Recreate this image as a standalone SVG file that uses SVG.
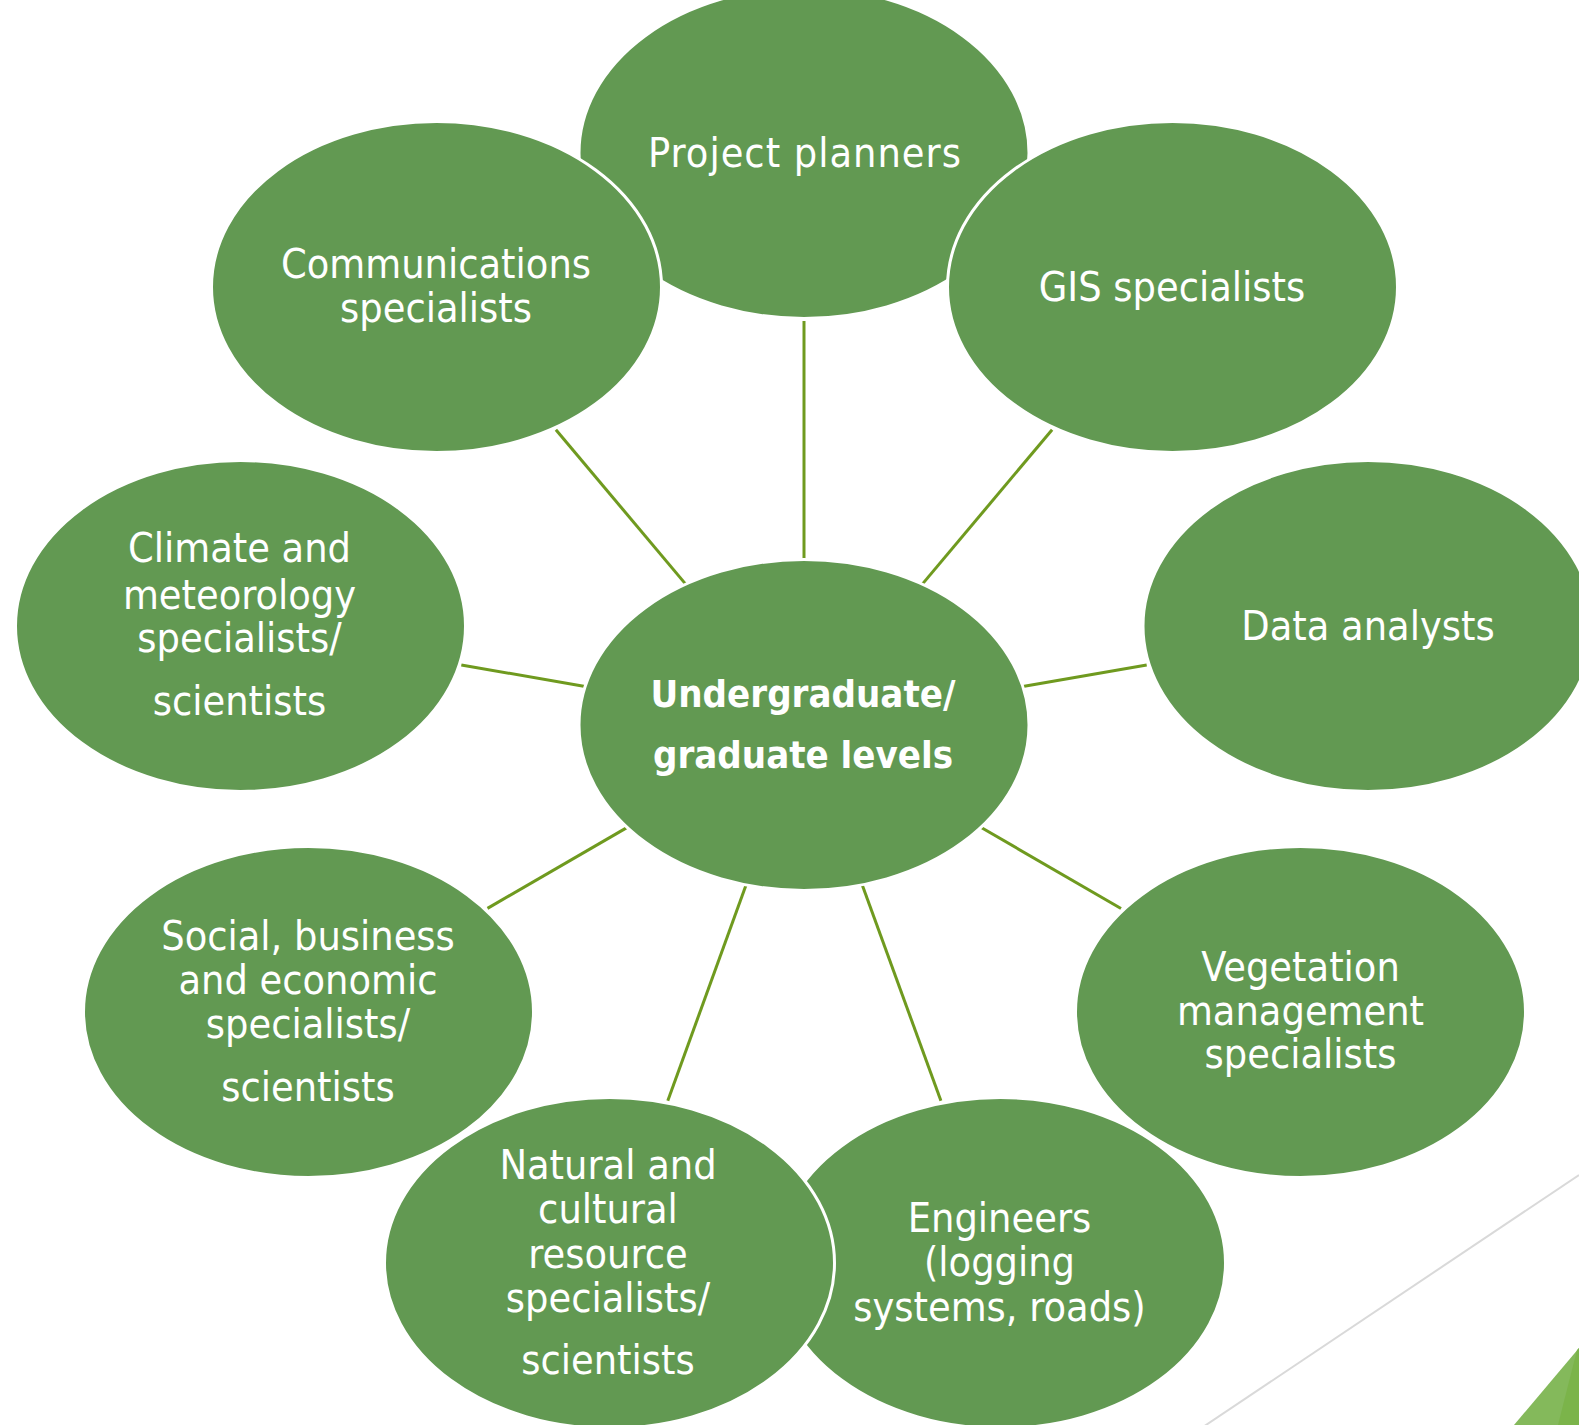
<svg xmlns="http://www.w3.org/2000/svg" width="1579" height="1425" viewBox="0 0 1579 1425">
<style>
.n{fill:#629952;stroke:#ffffff;stroke-width:3}
.t{font-family:"DejaVu Sans Condensed","DejaVu Sans",sans-serif;font-stretch:condensed;font-size:41px;fill:#ffffff;text-anchor:middle}
.b{font-weight:bold;font-size:38px}
.c line{stroke:#6F9A1F;stroke-width:3}
</style>
<rect width="1579" height="1425" fill="#ffffff"/>
<g id="decor">
<line x1="1579" y1="1175" x2="1203" y2="1427" stroke="#D9D9D9" stroke-width="2"/>
<polygon points="1514,1425 1579,1348 1579,1425" fill="#84B95B"/>
<polygon points="1558,1425 1577,1350 1579,1348 1579,1425" fill="#7BB44A"/>
</g>
<g id="connectors" class="c">
<line x1="804" y1="561" x2="804" y2="321"/>
<line x1="921.3" y1="585.4" x2="1052.1" y2="429.7"/>
<line x1="1021.4" y1="686.8" x2="1146.7" y2="664.9"/>
<line x1="979.5" y1="826.5" x2="1121" y2="908.5"/>
<line x1="861.7" y1="883.4" x2="940.9" y2="1100.8"/>
<line x1="746.6" y1="883.5" x2="667.8" y2="1100.7"/>
<line x1="628.6" y1="826.6" x2="487.5" y2="908.4"/>
<line x1="586.6" y1="686.8" x2="461.3" y2="664.9"/>
<line x1="686.7" y1="585.4" x2="555.9" y2="429.7"/>
</g>
<g id="center">
<ellipse class="n" cx="804" cy="725" rx="225" ry="165.5"/>
<text class="t b" x="803" y="707">Undergraduate/</text>
<text class="t b" x="803" y="768">graduate levels</text>
</g>
<g id="project-planners">
<ellipse class="n" cx="804" cy="153" rx="225" ry="165.5"/>
<text class="t" x="805" y="167" letter-spacing="1">Project planners</text>
</g>
<g id="gis">
<ellipse class="n" cx="1172.5" cy="287" rx="225" ry="165.5"/>
<text class="t" x="1172" y="301">GIS specialists</text>
</g>
<g id="data">
<ellipse class="n" cx="1368" cy="626" rx="225" ry="165.5"/>
<text class="t" x="1368" y="640">Data analysts</text>
</g>
<g id="vegetation">
<ellipse class="n" cx="1300.5" cy="1012" rx="225" ry="165.5"/>
<text class="t" x="1300.5" y="981">Vegetation</text>
<text class="t" x="1300.5" y="1025">management</text>
<text class="t" x="1300.5" y="1068">specialists</text>
</g>
<g id="engineers">
<ellipse class="n" cx="1000.5" cy="1263" rx="225" ry="165.5"/>
<text class="t" x="999.5" y="1232">Engineers</text>
<text class="t" x="999.5" y="1276">(logging</text>
<text class="t" x="999.5" y="1321">systems, roads)</text>
</g>
<g id="natural">
<ellipse class="n" cx="609.5" cy="1263" rx="225" ry="165.5"/>
<text class="t" x="608" y="1179">Natural and</text>
<text class="t" x="608" y="1223">cultural</text>
<text class="t" x="608" y="1268">resource</text>
<text class="t" x="608" y="1312">specialists/</text>
<text class="t" x="608" y="1374">scientists</text>
</g>
<g id="social">
<ellipse class="n" cx="308.5" cy="1012" rx="225" ry="165.5"/>
<text class="t" x="308" y="950">Social, business</text>
<text class="t" x="308" y="994">and economic</text>
<text class="t" x="308" y="1038">specialists/</text>
<text class="t" x="308" y="1101">scientists</text>
</g>
<g id="climate">
<ellipse class="n" cx="240.5" cy="626" rx="225" ry="165.5"/>
<text class="t" x="239.5" y="562">Climate and</text>
<text class="t" x="239.5" y="609">meteorology</text>
<text class="t" x="239.5" y="652">specialists/</text>
<text class="t" x="239.5" y="715">scientists</text>
</g>
<g id="communications">
<ellipse class="n" cx="436.5" cy="287" rx="225" ry="165.5"/>
<text class="t" x="436" y="278">Communications</text>
<text class="t" x="436" y="322">specialists</text>
</g>
</svg>
